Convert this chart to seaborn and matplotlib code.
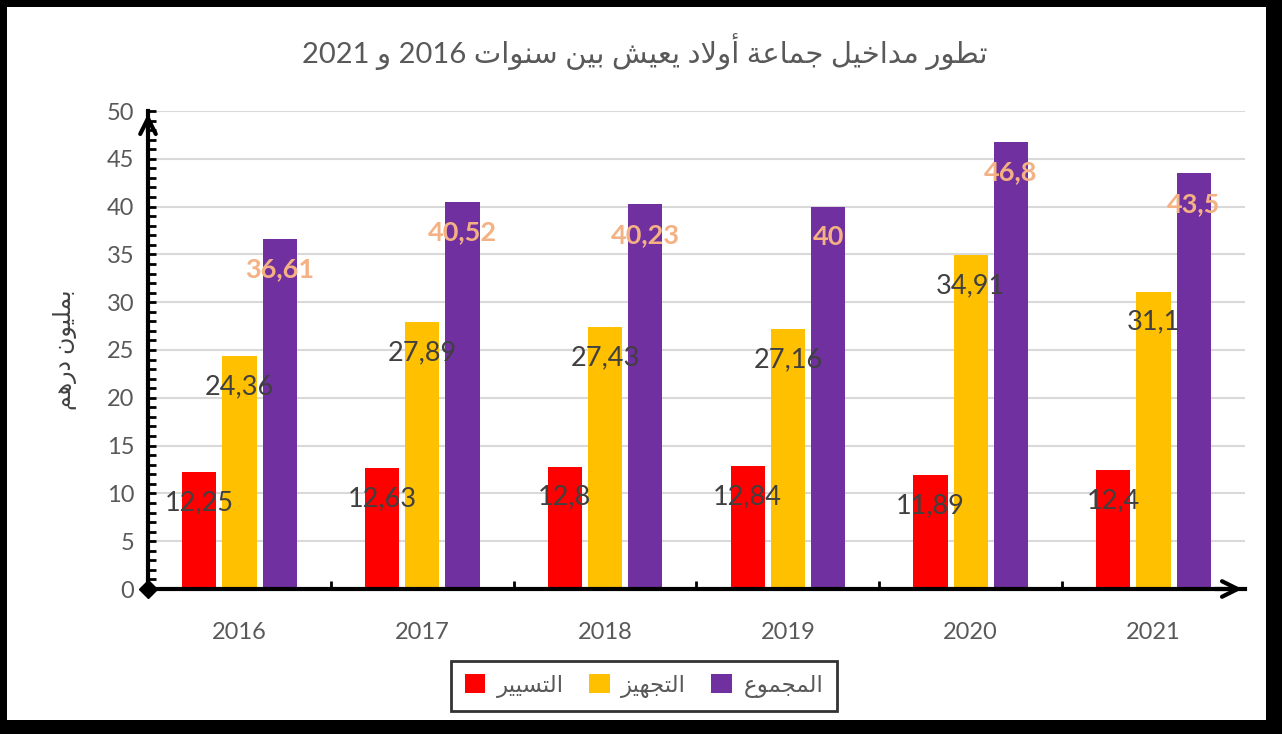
import re
import pandas as pd
import matplotlib
matplotlib.use('Agg')
import matplotlib.pyplot as plt
import seaborn as sns
from matplotlib.patches import Rectangle
from matplotlib.ticker import MultipleLocator, FixedLocator

# data
years = ['2016', '2017', '2018', '2019', '2020', '2021']
tasyir = [12.25, 12.63, 12.8, 12.84, 11.89, 12.4]
tajhiz = [24.36, 27.89, 27.43, 27.16, 34.91, 31.1]
majmou = [36.61, 40.52, 40.23, 40, 46.8, 43.5]
series_names = ['التسيير', 'التجهيز', 'المجموع']
title_txt = 'تطور مداخيل جماعة أولاد يعيش بين سنوات 2016 و 2021'
ylabel_txt = 'بمليون درهم'

# matplotlib has no arabic shaping -> presentation forms (iso, fin, ini, med)
FORMS = {
    'ا': ('\uFE8D', '\uFE8E', None, None),
    'أ': ('\uFE83', '\uFE84', None, None),
    'ب': ('\uFE8F', '\uFE90', '\uFE91', '\uFE92'),
    'ة': ('\uFE93', '\uFE94', None, None),
    'ت': ('\uFE95', '\uFE96', '\uFE97', '\uFE98'),
    'ج': ('\uFE9D', '\uFE9E', '\uFE9F', '\uFEA0'),
    'خ': ('\uFEA5', '\uFEA6', '\uFEA7', '\uFEA8'),
    'د': ('\uFEA9', '\uFEAA', None, None),
    'ر': ('\uFEAD', '\uFEAE', None, None),
    'ز': ('\uFEAF', '\uFEB0', None, None),
    'س': ('\uFEB1', '\uFEB2', '\uFEB3', '\uFEB4'),
    'ش': ('\uFEB5', '\uFEB6', '\uFEB7', '\uFEB8'),
    'ط': ('\uFEC1', '\uFEC2', '\uFEC3', '\uFEC4'),
    'ع': ('\uFEC9', '\uFECA', '\uFECB', '\uFECC'),
    'ل': ('\uFEDD', '\uFEDE', '\uFEDF', '\uFEE0'),
    'م': ('\uFEE1', '\uFEE2', '\uFEE3', '\uFEE4'),
    'ن': ('\uFEE5', '\uFEE6', '\uFEE7', '\uFEE8'),
    'ه': ('\uFEE9', '\uFEEA', '\uFEEB', '\uFEEC'),
    'و': ('\uFEED', '\uFEEE', None, None),
    'ي': ('\uFEF1', '\uFEF2', '\uFEF3', '\uFEF4'),
}
LAMALEF = {'ا': ('\uFEFB', '\uFEFC'), 'أ': ('\uFEF7', '\uFEF8')}


def dual(c):
    return c in FORMS and FORMS[c][2] is not None


def ar(text):
    out = []
    i = 0
    n = len(text)
    while i < n:
        c = text[i]
        if c not in FORMS:
            out.append(c)
            i += 1
            continue
        prev = text[i - 1] if i > 0 else ''
        lp = dual(prev)
        if c == 'ل' and i + 1 < n and text[i + 1] in LAMALEF:
            lig = LAMALEF[text[i + 1]]
            out.append(lig[1] if lp else lig[0])
            i += 2
            continue
        nxt = text[i + 1] if i + 1 < n else ''
        ln = dual(c) and nxt in FORMS
        iso, fin, ini, med = FORMS[c]
        out.append(med if (lp and ln) else fin if lp else ini if ln else iso)
        i += 1
    vis = ''.join(out)[::-1]
    return re.sub(r'[0-9]+', lambda m: m.group(0)[::-1], vis)


labels_ar = [ar(s) for s in series_names]
df = pd.DataFrame({
    'year': years * 3,
    'value': tasyir + tajhiz + majmou,
    'serie': [labels_ar[0]] * 6 + [labels_ar[1]] * 6 + [labels_ar[2]] * 6,
})

sns.set_style('white')
plt.rcParams['font.family'] = ['Lato', 'DejaVu Sans']

fig = plt.figure(figsize=(12.82, 7.34), dpi=100, facecolor='black')
fig.patches.append(Rectangle((7 / 1282, 14 / 734), 1259 / 1282, 713 / 734,
                             transform=fig.transFigure, facecolor='white',
                             edgecolor='none', zorder=-1))
ax = fig.add_axes([148 / 1282, 145 / 734, 1097 / 1282, 478 / 734])

colors = ['#FF0000', '#FFC000', '#7030A0']
sns.barplot(data=df, x='year', y='value', hue='serie', hue_order=labels_ar,
            palette=colors, width=0.66, gap=0.15, saturation=1, ax=ax,
            edgecolor='none')

ax.set_xlim(-0.5, 5.5)
ax.set_ylim(0, 50)
ax.set_xlabel('')
ax.set_ylabel('')

# grid + ticks
ax.yaxis.set_major_locator(MultipleLocator(5))
ax.yaxis.set_minor_locator(MultipleLocator(1))
ax.grid(axis='y', which='major', color='#D9D9D9', lw=1.5, zorder=0)
ax.set_axisbelow(True)
ax.tick_params(axis='y', which='both', direction='in', length=6, width=2,
               color='black', left=True, pad=10, labelsize=17, labelcolor='#595959')
ax.xaxis.set_minor_locator(FixedLocator([0.5, 1.5, 2.5, 3.5, 4.5]))
ax.tick_params(axis='x', which='major', length=0, pad=24, labelsize=17,
               labelcolor='#595959')
ax.tick_params(axis='x', which='minor', direction='in', length=6, width=2,
               color='black', bottom=True)

for s in ['top', 'right']:
    ax.spines[s].set_visible(False)
for s in ['left', 'bottom']:
    ax.spines[s].set_color('black')
    ax.spines[s].set_linewidth(3)
    ax.spines[s].set_zorder(5)

# arrows + origin diamond
ax.annotate('', xy=(0, 1.0), xytext=(0, 0.95), xycoords='axes fraction',
            arrowprops=dict(arrowstyle='->', lw=3, color='black', mutation_scale=28))
ax.annotate('', xy=(1.0, 0), xytext=(0.97, 0), xycoords='axes fraction',
            arrowprops=dict(arrowstyle='->', lw=3, color='black', mutation_scale=28))
ax.plot(0, 0, marker='D', ms=9, color='black', transform=ax.transAxes,
        clip_on=False, zorder=6)

# data labels
for k, cont in enumerate(ax.containers):
    for p in cont.patches:
        v = p.get_height()
        txt = f'{v:g}'.replace('.', ',')
        if k == 2:
            ax.annotate(txt, (p.get_x() + p.get_width() / 2, v), xytext=(0, -22),
                        textcoords='offset points', ha='center', va='center',
                        fontsize=19.5, fontweight='bold', color='#F4B183', zorder=7)
        else:
            ax.annotate(txt, (p.get_x() + p.get_width() / 2, v), xytext=(0, -22),
                        textcoords='offset points', ha='center', va='center',
                        fontsize=19.5, color='#404040', zorder=7)

# legend
handles, lbls = ax.get_legend_handles_labels()
ax.legend(handles, lbls, loc='center', bbox_to_anchor=(644 / 1282, 1 - 686 / 734),
          bbox_transform=fig.transFigure, ncol=3, frameon=True, fancybox=False,
          edgecolor='black', fontsize=16.5, handlelength=0.9, handleheight=0.9,
          handletextpad=0.5, columnspacing=1.1, borderpad=0.6, labelcolor='#595959')
ax.get_legend().get_frame().set_linewidth(2)

fig.text(645 / 1282, 1 - 52 / 734, ar(title_txt), ha='center', va='center',
         fontsize=21, color='#595959')
fig.text(65 / 1282, 1 - 350 / 734, ar(ylabel_txt), ha='center', va='center',
         rotation=90, fontsize=17, color='#404040')

fig.savefig('out.png', dpi=100)
